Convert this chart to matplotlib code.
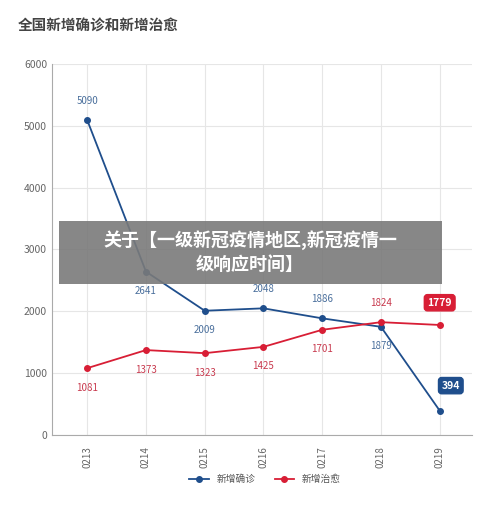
import matplotlib
matplotlib.use("Agg")
import matplotlib.pyplot as plt

plt.rcParams['font.family'] = ['Noto Sans CJK SC', 'DejaVu Sans']

dates = ["0213", "0214", "0215", "0216", "0217", "0218", "0219"]
confirmed = [5090, 2641, 2009, 2048, 1886, 1749, 394]
confirmed_labels = ["5090", "2641", "2009", "2048", "1886", "1879", "394"]
cured = [1081, 1373, 1323, 1425, 1701, 1824, 1779]
cured_labels = ["1081", "1373", "1323", "1425", "1701", "1824", "1779"]

blue = "#1f4e8c"
red = "#d81e35"

fig = plt.figure(figsize=(5, 5.07), dpi=100)
ax = fig.add_axes([0.104, 0.142, 0.84, 0.732])
x = list(range(len(dates)))
ax.plot(x, confirmed, color=blue, marker='o', markersize=4, lw=1.3, label="新增确诊")
ax.plot(x, cured, color=red, marker='o', markersize=4, lw=1.3, label="新增治愈")
ax.set_xlim(-0.6, 6.55)
ax.set_ylim(0, 6000)
ax.set_yticks(range(0, 6001, 1000))
ax.set_xticks(x)
ax.set_xticklabels(dates, rotation=90, fontsize=7, color="#666666")
ax.tick_params(axis='y', labelsize=7.5, colors="#666666", length=0)
ax.tick_params(axis='x', length=0, pad=8)
ax.grid(True, color="#e6e6e6", lw=0.8)
ax.set_axisbelow(True)
for s in ['top', 'right']:
    ax.spines[s].set_visible(False)
for s in ['left', 'bottom']:
    ax.spines[s].set_color("#aaaaaa")

conf_off = [14, -14, -14, 14, 14, -14, 0]
cure_off = [-14, -14, -14, -14, -14, 14, 0]
for i in range(len(dates) - 1):
    ax.annotate(confirmed_labels[i], (i, confirmed[i]), xytext=(0, conf_off[i]), textcoords='offset points',
                ha='center', va='center', fontsize=7, color="#4a6f9c")
    ax.annotate(cured_labels[i], (i, cured[i]), xytext=(0, cure_off[i]), textcoords='offset points',
                ha='center', va='center', fontsize=7, color="#c83a4e")
i = 6
ax.annotate(confirmed_labels[i], (i, confirmed[i]), xytext=(8, 18), textcoords='offset points',
            ha='center', va='center', fontsize=7.5, color="white", fontweight='bold',
            bbox=dict(boxstyle="round,pad=0.3", fc=blue, ec=blue))
ax.annotate(cured_labels[i], (i, cured[i]), xytext=(0, 16), textcoords='offset points',
            ha='center', va='center', fontsize=7.5, color="white", fontweight='bold',
            bbox=dict(boxstyle="round,pad=0.3", fc=red, ec=red))

fig.legend(loc='center', bbox_to_anchor=(0.53, 0.055), ncol=2, frameon=False, fontsize=7,
           handlelength=2, labelcolor="#555555")

fig.text(0.035, 0.94, "全国新增确诊和新增治愈", fontsize=10.5, fontweight='bold', color="#444444")

fig.patches.append(matplotlib.patches.Rectangle((0.117, 0.44), 0.766, 0.125, transform=fig.transFigure,
                                                fc="#7a7a7a", alpha=0.9, ec='none', zorder=10))
fig.text(0.5, 0.503, "关于【一级新冠疫情地区,新冠疫情一\n级响应时间】", ha='center', va='center',
         fontsize=13, fontweight='bold', color="white", zorder=11, linespacing=1.3)

fig.savefig("out.png", dpi=100)
